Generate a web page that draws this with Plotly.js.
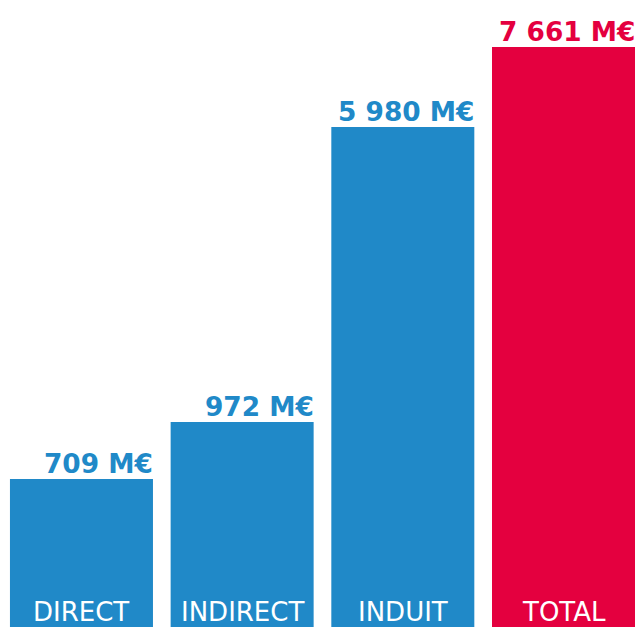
<!DOCTYPE html>
<html>
<head>
<meta charset="utf-8">
<script src="https://cdn.plot.ly/plotly-3.0.1.min.js"></script>
<style>html,body{margin:0;padding:0;background:#fff;}#chart{width:635px;height:627px;}</style>
</head>
<body>
<div id="chart"></div>
<script>
// Data
const categories = ["DIRECT", "INDIRECT", "INDUIT", "TOTAL"];
const valuesMEur = [709, 972, 5980, 7661];
// Bar heights as displayed in the reference (not proportional to the values)
const displayedHeights = [148, 205, 500, 580];
const barColors = ["#2089C8", "#2089C8", "#2089C8", "#E4003F"];

function fmt(v) {
  return String(v).replace(/\B(?=(\d{3})+(?!\d))/g, " ") + " M€";
}

const xIdx = categories.map((c, i) => i);
const barWidth = 0.89;

const trace = {
  type: "bar",
  x: xIdx,
  y: displayedHeights,
  width: barWidth,
  marker: {color: barColors, line: {width: 0}},
  hoverinfo: "none"
};

const annotations = [];
categories.forEach((c, i) => {
  annotations.push({
    x: i + barWidth / 2, y: displayedHeights[i], xref: "x", yref: "y",
    xanchor: "right", yanchor: "bottom", showarrow: false,
    text: "<b>" + fmt(valuesMEur[i]) + "</b>",
    font: {family: "DejaVu Sans", size: 26.4, color: barColors[i]},
    borderpad: 0, xshift: 1, yshift: -1
  });
  annotations.push({
    x: i, y: 0, xref: "x", yref: "y",
    xanchor: "center", yanchor: "bottom", showarrow: false,
    text: c,
    font: {family: "DejaVu Sans", size: 26, color: "#ffffff"},
    borderpad: 0, yshift: -1
  });
});

const layout = {
  width: 635, height: 627,
  margin: {l: 0, r: 0, t: 0, b: 0, pad: 0},
  paper_bgcolor: "#ffffff", plot_bgcolor: "#ffffff",
  showlegend: false,
  xaxis: {range: [-0.507, 3.445], visible: false, fixedrange: true},
  yaxis: {range: [0, 627], visible: false, fixedrange: true},
  annotations: annotations
};

Plotly.newPlot("chart", [trace], layout, {displayModeBar: false, staticPlot: true});
</script>
</body>
</html>
